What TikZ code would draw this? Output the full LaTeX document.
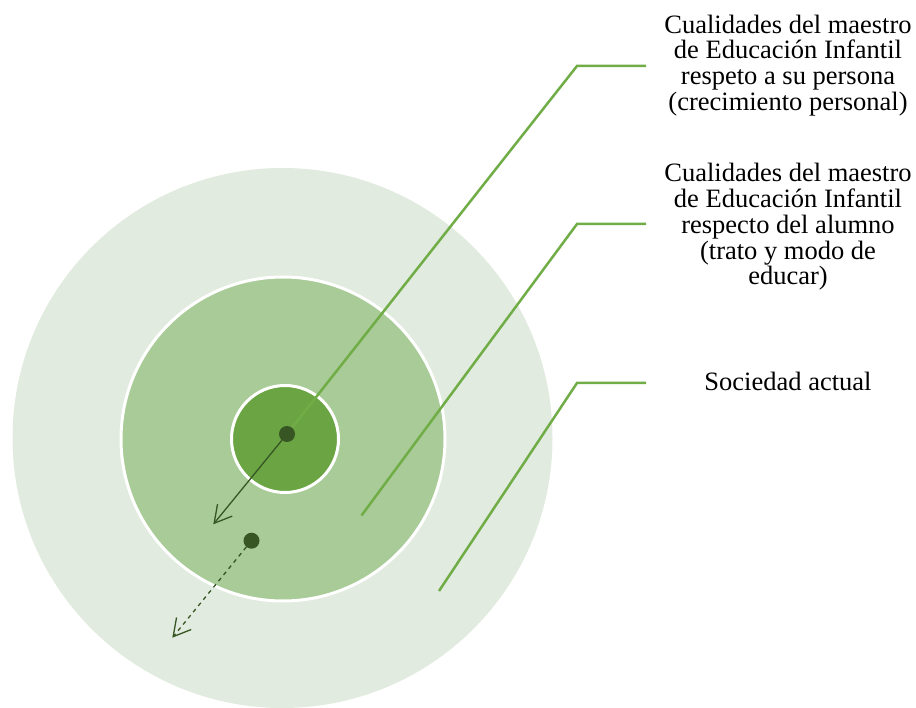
\documentclass[tikz,border=0pt]{standalone}
\usepackage{fontspec}
\setmainfont{Liberation Serif}
\usetikzlibrary{arrows.meta}
\definecolor{outerbg}{HTML}{E2EBDF}
\definecolor{midbg}{HTML}{A9CB97}
\definecolor{innerbg}{HTML}{6AA443}
\definecolor{darkgr}{HTML}{375623}
\definecolor{linegr}{HTML}{70AD47}

\begin{document}
\begin{tikzpicture}[x=1pt,y=-1pt,
  ring/.style={shape=circle,draw=white,line width=3pt,inner sep=0pt},
  spot/.style={shape=circle,fill=darkgr,inner sep=0pt,minimum size=16pt},
  leader/.style={draw=linegr,line width=2.5pt},
  move/.style={draw=darkgr,line width=1.3pt,-{Straight Barb[length=17pt,width=19pt]}},
  txt/.style={align=center,inner sep=0pt,anchor=north,font=\fontsize{26.5}{25.7}\selectfont}]
\useasboundingbox (0,0) rectangle (916,708);
% circles
\node(soc)[ring,draw=none,fill=outerbg,minimum size=540pt] at (282.5,438){};
\node(alu)[ring,fill=midbg,minimum size=324pt] at (283,439){};
\node(per)[ring,fill=innerbg,minimum size=107pt] at (285,439){};
% texts
\node(tper)[txt] at (788,14.7){Cualidades del maestro\\ de Educación Infantil\\ respeto a su persona\\ (crecimiento personal)};
\node(talu)[txt] at (788,163.4){Cualidades del maestro\\ de Educación Infantil\\ respecto del alumno\\ (trato y modo de\\ educar)};
\node(tsoc)[txt] at (788,371.9){Sociedad actual};
% leader lines
\coordinate(kper) at (577,66);
\coordinate(eper) at (646,66);
\coordinate(salu) at (361.5,515.5);
\coordinate(kalu) at (577,224);
\coordinate(ealu) at (646,224);
\coordinate(ssoc) at (439,591);
\coordinate(ksoc) at (577,383);
\coordinate(esoc) at (646,383);
\draw[leader] (287,434) -- (kper) -- (eper);
\draw[leader] (salu) -- (kalu) -- (ealu);
\draw[leader] (ssoc) -- (ksoc) -- (esoc);
% dots and arrows
\node(p1)[spot] at (287,434){};
\node(p2)[spot] at (251.5,540.7){};
\coordinate(a1) at (213.3,524.3);
\coordinate(a2) at (172.3,637.7);
\draw[move] (p1) -- (a1);
\draw[move,dash pattern=on 4pt off 4pt] (p2) -- (a2);
\end{tikzpicture}
\end{document}
